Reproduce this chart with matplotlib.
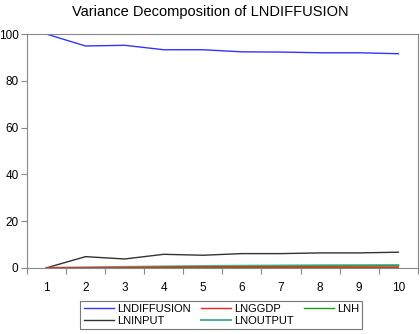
import matplotlib.pyplot as plt

plt.rcParams['font.family'] = ['Liberation Sans', 'DejaVu Sans']

periods = [1, 2, 3, 4, 5, 6, 7, 8, 9, 10]
lndiffusion = [100.0, 94.9, 95.2, 93.3, 93.3, 92.4, 92.3, 92.0, 92.0, 91.6]
lnggdp = [0.0, 0.05, 0.1, 0.12, 0.15, 0.17, 0.18, 0.2, 0.2, 0.2]
lnh = [0.0, 0.1, 0.2, 0.4, 0.5, 0.6, 0.65, 0.7, 0.75, 0.8]
lninput = [0.0, 4.8, 3.8, 5.8, 5.4, 6.1, 6.1, 6.4, 6.4, 6.7]
lnoutput = [0.0, 0.2, 0.4, 0.6, 0.8, 0.9, 1.0, 1.1, 1.15, 1.2]

fig = plt.figure(figsize=(4.2, 3.34), dpi=100)
ax = fig.add_axes([0.064, 0.198, 0.931, 0.7])

h1, = ax.plot(periods, lndiffusion, color='#3333ff', lw=1, label='LNDIFFUSION')
h4, = ax.plot(periods, lninput, color='#333333', lw=1, label='LNINPUT')
h5, = ax.plot(periods, lnoutput, color='#5aae9e', lw=1.5, label='LNOUTPUT')
h3, = ax.plot(periods, lnh, color='#1a9a1a', lw=1, label='LNH')
h2, = ax.plot(periods, lnggdp, color='#ff2020', lw=1, label='LNGGDP')

ax.set_xlim(0.5, 10.5)
ax.set_ylim(0, 100)
ax.set_yticks([0, 20, 40, 60, 80, 100])
ax.set_xticks([x + 0.5 for x in range(0, 11)])
ax.set_xticklabels([])
ax.set_xticks(periods, minor=True)
ax.set_xticklabels([str(p) for p in periods], minor=True)
ax.tick_params(axis='x', which='minor', length=0, pad=10, labelsize=8.5)
ax.tick_params(axis='x', which='major', length=4, color='#888888')
ax.tick_params(axis='y', length=4, color='#888888', labelsize=8.5, pad=2)
for s in ax.spines.values():
    s.set_color('#888888')

fig.suptitle('Variance Decomposition of LNDIFFUSION', y=0.985, fontsize=10.5)

leg = fig.legend([h1, h4, h2, h5, h3],
                 ['LNDIFFUSION', 'LNINPUT', 'LNGGDP', 'LNOUTPUT', 'LNH'],
                 ncol=3, loc='center', bbox_to_anchor=(0.527, 0.057),
                 fontsize=8, fancybox=False, edgecolor='#555555',
                 handlelength=2.7, columnspacing=0.9, borderpad=0.3,
                 labelspacing=0.15, handletextpad=0.3)
leg.get_frame().set_linewidth(0.8)

fig.savefig('out.png', dpi=100)
